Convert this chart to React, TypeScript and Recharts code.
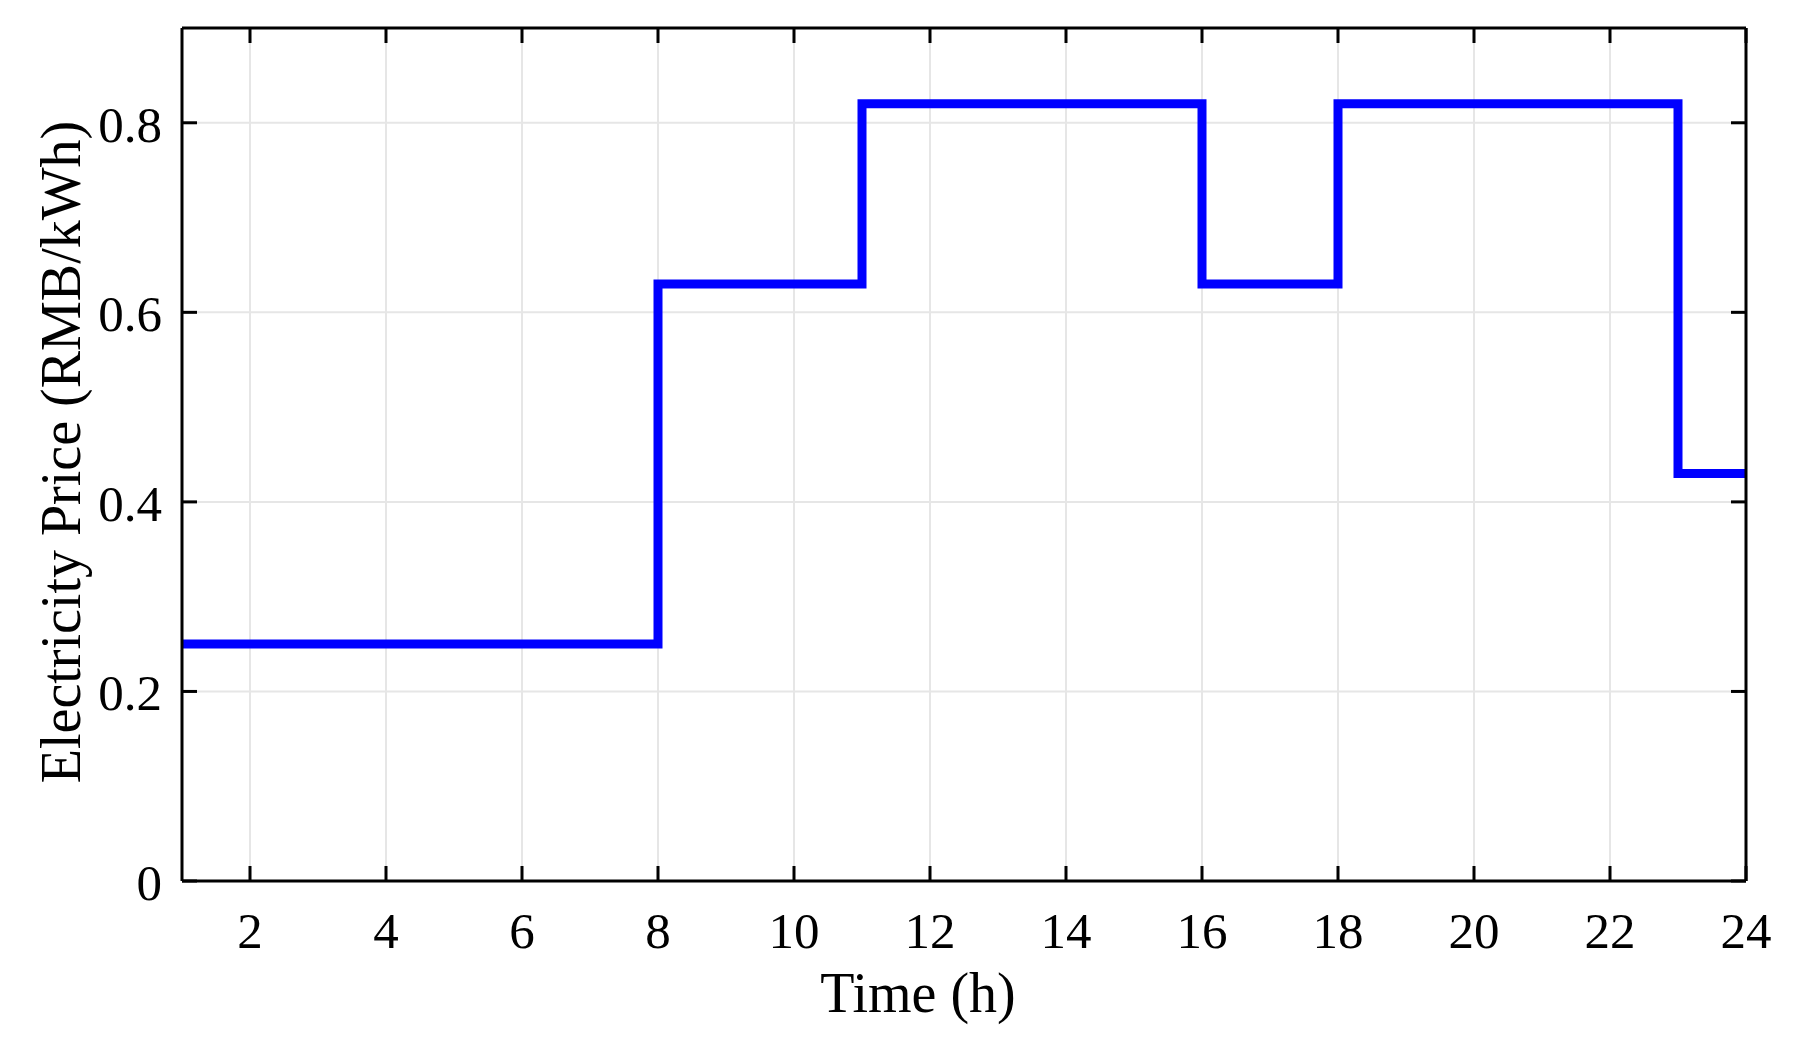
import React from 'react';
import { LineChart, Line, XAxis, YAxis, CartesianGrid } from 'recharts';

const hours = [1, 2, 3, 4, 5, 6, 7, 8, 9, 10, 11, 12, 13, 14, 15, 16, 17, 18, 19, 20, 21, 22, 23, 24];
const prices = [
  0.25, 0.25, 0.25, 0.25, 0.25, 0.25, 0.25,
  0.63, 0.63, 0.63,
  0.82, 0.82, 0.82, 0.82, 0.82,
  0.63, 0.63,
  0.82, 0.82, 0.82, 0.82, 0.82,
  0.43, 0.43,
];
const xTicks = [2, 4, 6, 8, 10, 12, 14, 16, 18, 20, 22, 24];
const yTicks = [0, 0.2, 0.4, 0.6, 0.8];
const xDomain = [1, 24];
const yDomain = [0, 0.9];
const xLabel = 'Time (h)';
const yLabel = 'Electricity Price (RMB/kWh)';

const data = hours.map((h, i) => ({ hour: h, price: prices[i] }));

const FONT = '"Liberation Serif", "Times New Roman", "DejaVu Serif", serif';
const TICK_LEN = 15;
const TW = 3;

const renderBottomTick = (props: any) => {
  const { x, y, payload } = props;
  return (
    <g key={`b-${payload.value}`}>
      <rect x={x - TW / 2} y={y - TICK_LEN} width={TW} height={TICK_LEN} fill="#000" />
      <text x={x} y={y + 67} textAnchor="middle" fontSize={51} fontFamily={FONT} fill="#000">
        {String(payload.value)}
      </text>
    </g>
  );
};

const renderTopTick = (props: any) => {
  const { x, y, payload } = props;
  return <rect key={`t-${payload.value}`} x={x - TW / 2} y={y} width={TW} height={TICK_LEN} fill="#000" />;
};

const renderLeftTick = (props: any) => {
  const { x, y, payload } = props;
  return (
    <g key={`l-${payload.value}`}>
      <rect x={x} y={y - TW / 2} width={TICK_LEN} height={TW} fill="#000" />
      <text x={x - 20} y={y + 19} textAnchor="end" fontSize={51} fontFamily={FONT} fill="#000">
        {String(payload.value)}
      </text>
    </g>
  );
};

const renderRightTick = (props: any) => {
  const { x, y, payload } = props;
  return <rect key={`r-${payload.value}`} x={x - TICK_LEN} y={y - TW / 2} width={TICK_LEN} height={TW} fill="#000" />;
};

export default function App() {
  return (
    <div style={{ position: 'absolute', left: 0, top: 0, width: 1805, height: 1043, background: '#fff' }}>
      <LineChart
        width={1805}
        height={1043}
        data={data}
        margin={{ top: 27, right: 58, bottom: 0, left: 0 }}
      >
        <CartesianGrid stroke="#e6e6e6" strokeWidth={2} />
        <Line
          dataKey="price"
          type="stepAfter"
          stroke="#0000ff"
          strokeWidth={9}
          strokeLinejoin="miter"
          strokeLinecap="butt"
          dot={false}
          activeDot={false}
          isAnimationActive={false}
        />
        <XAxis
          dataKey="hour"
          type="number"
          domain={xDomain}
          ticks={xTicks}
          interval={0}
          allowDataOverflow
          height={162}
          tickSize={0}
          tickMargin={0}
          tickLine={false}
          axisLine={{ stroke: '#000', strokeWidth: 3 }}
          tick={renderBottomTick}
          label={{
            value: xLabel,
            content: () => (
              <text x={918} y={1012} textAnchor="middle" fontSize={56} fontFamily={FONT} fill="#000">
                {xLabel}
              </text>
            ),
          }}
        />
        <XAxis
          xAxisId="top"
          orientation="top"
          dataKey="hour"
          type="number"
          domain={xDomain}
          ticks={xTicks}
          interval={0}
          allowDataOverflow
          height={1}
          tickSize={0}
          tickMargin={0}
          tickLine={false}
          axisLine={{ stroke: '#000', strokeWidth: 3 }}
          tick={renderTopTick}
        />
        <YAxis
          type="number"
          domain={yDomain}
          ticks={yTicks}
          interval={0}
          allowDataOverflow
          width={182}
          tickSize={0}
          tickMargin={0}
          tickLine={false}
          axisLine={{ stroke: '#000', strokeWidth: 3 }}
          tick={renderLeftTick}
          label={{
            value: yLabel,
            content: () => (
              <text
                x={0}
                y={0}
                transform="translate(80 452) rotate(-90)"
                textAnchor="middle"
                fontSize={56}
                fontFamily={FONT}
                fill="#000"
              >
                {yLabel}
              </text>
            ),
          }}
        />
        <YAxis
          yAxisId="right"
          orientation="right"
          type="number"
          domain={yDomain}
          ticks={yTicks}
          interval={0}
          allowDataOverflow
          width={1}
          tickSize={0}
          tickMargin={0}
          tickLine={false}
          axisLine={{ stroke: '#000', strokeWidth: 3 }}
          tick={renderRightTick}
        />
      </LineChart>
    </div>
  );
}
